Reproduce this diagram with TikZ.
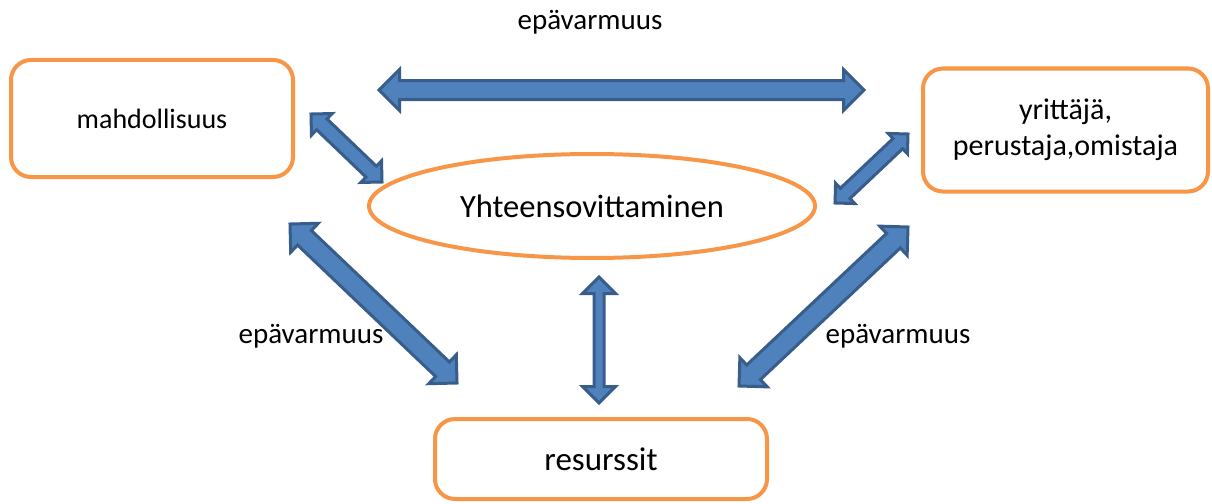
\documentclass[tikz,border=0pt]{standalone}
\usepackage{fontspec}
\setmainfont{Carlito}
\usepackage{xcolor}
\usetikzlibrary{calc,shapes.geometric}
\definecolor{boxorange}{HTML}{F79646}
\definecolor{arrowfill}{HTML}{4F81BD}
\definecolor{arrowline}{HTML}{385D8A}
\tikzset{
	box/.style={draw=boxorange, line width=4pt, rounded corners=20pt, align=center,
			inner sep=0pt, font=\fontsize{29}{35}\selectfont},
	oval/.style={draw=boxorange, line width=4pt, ellipse, inner sep=0pt,
			font=\fontsize{32.5}{38}\selectfont},
	label text/.style={font=\fontsize{29}{35}\selectfont},
	blockarrow/.style={draw=arrowline, fill=arrowfill, line width=3pt}
}
% #1 head half-width, #2 shaft half-width, #3 one end, #4 other end
\newcommand{\blockarrow}[4]{%
	\draw[blockarrow] (#3)
	-- ($(#3)!#1!(#4)!#1!90:(#4)$)
	-- ($(#3)!#1!(#4)!#2!90:(#4)$)
	-- ($(#4)!#1!(#3)!#2!-90:(#3)$)
	-- ($(#4)!#1!(#3)!#1!-90:(#3)$)
	-- (#4)
	-- ($(#4)!#1!(#3)!#1!90:(#3)$)
	-- ($(#4)!#1!(#3)!#2!90:(#3)$)
	-- ($(#3)!#1!(#4)!#2!-90:(#4)$)
	-- ($(#3)!#1!(#4)!#1!-90:(#4)$)
	-- cycle;}

\begin{document}
\begin{tikzpicture}[x=1pt, y=-1pt]
	\useasboundingbox (0,0) rectangle (1212,503);

	\node[box, minimum width=282pt, minimum height=117pt, font=\fontsize{28}{34}\selectfont]
		(mahd) at (152,118.5) {mahdollisuus};
	\node[box, minimum width=285pt, minimum height=123pt, font=\fontsize{30}{36}\selectfont]
		(yritt) at (1065.5,130) {yrittäjä,\\perustaja,omistaja};
	\node[oval, minimum width=446pt, minimum height=104pt] (yht) at (592,206) {Yhteensovittaminen};
	\node[box, minimum width=332pt, minimum height=80pt, font=\fontsize{33}{38}\selectfont]
		(res) at (601,459) {resurssit};

	\node[label text] (eTop) at (590,22) {epävarmuus};
	\node[label text] (eLeft) at (311,336) {epävarmuus};
	\node[label text] (eRight) at (898,336) {epävarmuus};

	% arrow ends
	\coordinate (topA) at (379,90);
	\coordinate (topB) at (864,90);
	\coordinate (mahdA) at (311,114);
	\coordinate (mahdB) at (382,182);
	\coordinate (leftA) at (290,224);
	\coordinate (leftB) at (457,383);
	\coordinate (rightA) at (908,227);
	\coordinate (rightB) at (739,386);
	\coordinate (yrA) at (908,134);
	\coordinate (yrB) at (835,203);
	\coordinate (midA) at (599,277);
	\coordinate (midB) at (599,403);

	\blockarrow{20.5pt}{9.5pt}{topA}{topB}
	\blockarrow{15pt}{7.5pt}{mahdA}{mahdB}
	\blockarrow{20pt}{10pt}{leftA}{leftB}
	\blockarrow{20pt}{10pt}{rightA}{rightB}
	\blockarrow{14pt}{7pt}{yrA}{yrB}
	\blockarrow{16.5pt}{5pt}{midA}{midB}
\end{tikzpicture}
\end{document}
